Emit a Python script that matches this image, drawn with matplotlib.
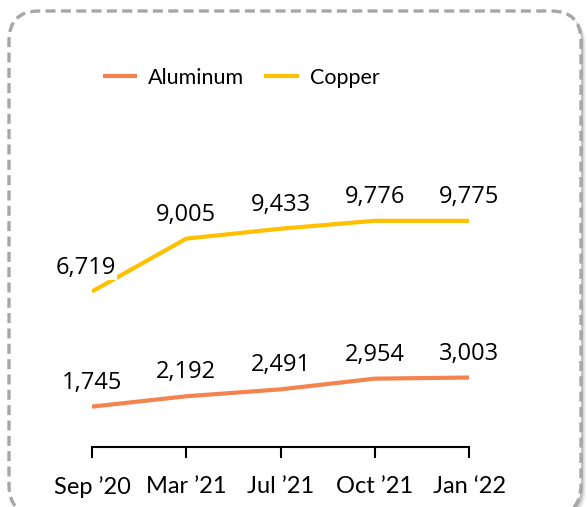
import matplotlib
matplotlib.use("Agg")
import matplotlib.pyplot as plt
from matplotlib.patches import FancyBboxPatch
from matplotlib.transforms import IdentityTransform

categories = ["Sep \u201920", "Mar \u201921", "Jul \u201921", "Oct \u201921", "Jan \u201822"]
aluminum = [1745, 2192, 2491, 2954, 3003]
copper = [6719, 9005, 9433, 9776, 9775]

c_al = "#F4844F"
c_cu = "#FFC000"

W, H = 587, 507
fig = plt.figure(figsize=(W / 100, H / 100), dpi=100)
fig.patch.set_facecolor("white")

# rounded dashed border with soft shadow (pixel coordinates, origin bottom-left)
x0, y0, x1, y1 = 9, -8, 581, 496
for i, a in enumerate([0.10, 0.08, 0.06, 0.04]):
    sh = FancyBboxPatch((x0 + 2 + i, y0 - 2 - i), x1 - x0, y1 - y0,
                        boxstyle="round,pad=0,rounding_size=30",
                        transform=IdentityTransform(), facecolor="black",
                        edgecolor="none", alpha=a, zorder=0)
    fig.patches.append(sh)
box = FancyBboxPatch((x0, y0), x1 - x0, y1 - y0,
                     boxstyle="round,pad=0,rounding_size=30",
                     transform=IdentityTransform(), facecolor="white",
                     edgecolor="#A6A6A6", linewidth=2.4,
                     linestyle=(0, (3, 1.6)), zorder=1)
fig.patches.append(box)

ax = fig.add_axes([92 / W, 1 - 447 / H, (469 - 92) / W, (447 - 130) / H])
ax.set_facecolor("none")
ax.set_zorder(2)

x = list(range(len(categories)))
ax.plot(x, aluminum, color=c_al, lw=3, solid_capstyle="butt", label="Aluminum")
ax.plot(x, copper, color=c_cu, lw=3, solid_capstyle="butt", label="Copper")

lab_font = dict(family=["Open Sans", "DejaVu Sans"], fontsize=17, color="black")
for i, v in enumerate(aluminum):
    ax.annotate(f"{v:,}", (i, v), xytext=(0, 24), textcoords="offset pixels",
                ha="center", va="center", **lab_font)
for i, v in enumerate(copper):
    dx = -6 if i == 0 else 0
    ax.annotate(f"{v:,}", (i, v), xytext=(dx, 24), textcoords="offset pixels",
                ha="center", va="center",
                bbox=dict(facecolor="white", edgecolor="none", pad=0.5) if i == 0 else None,
                **lab_font)

ax.set_xlim(0, 4)
ax.set_ylim(0, 13700)
for s in ["top", "right", "left"]:
    ax.spines[s].set_visible(False)
ax.spines["bottom"].set_linewidth(1.5)
ax.set_yticks([])
ax.set_xticks(x)
ax.set_xticklabels(categories, family=["Lato", "DejaVu Sans"], fontsize=17)
ax.tick_params(axis="x", length=8, width=1.5, pad=13)

leg = fig.legend(handles=ax.get_lines(), loc="center", bbox_to_anchor=(241 / W, 1 - 78 / H),
                 ncol=2, frameon=False, handlelength=1.6, columnspacing=0.95,
                 handletextpad=0.5, prop=dict(family=["Lato", "DejaVu Sans"], size=15.5))

fig.savefig("out.png", dpi=100)
